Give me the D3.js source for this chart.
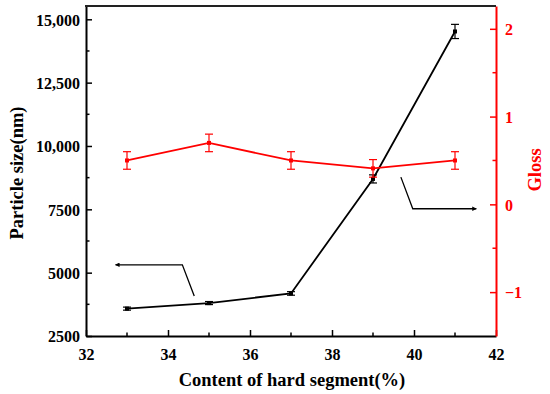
<!DOCTYPE html>
<html>
<head>
  <script src="https://d3js.org/d3.v7.min.js"></script>
  <style>
    * { margin: 0; box-sizing: border-box; }
    body { background: #fff; }
    text { font-family: "Liberation Serif", "Times New Roman", serif; font-weight: bold; }
  </style>
</head>
<body>
<script>
// hard segment content (%)
const content = [33, 35, 37, 39, 41];
// particle size (nm) with error
const sizeVals = [3580, 3800, 4180, 8700, 14520];
const sizeErr = [60, 60, 70, 160, 280];
// gloss with error
const glossVals = [0.5, 0.7, 0.5, 0.41, 0.5];
const glossErr = [0.1, 0.1, 0.1, 0.1, 0.1];

const xTicks = [32, 34, 36, 38, 40, 42];
const yTicks = [2500, 5000, 7500, 10000, 12500, 15000];
const gTicks = [-1, 0, 1, 2];

// arrow annotations in data units
const leftArrow = [[34.64, 4080], [34.35, 5310], [32.72, 5310]];
const rightArrow = [[39.68, 0.31], [39.97, -0.05], [41.52, -0.05]];

const width = 550, height = 394;
const m = { left: 86, right: 496, top: 6, bottom: 336 };

const svg = d3.select("body").append("svg")
  .attr("width", width).attr("height", height);

const defs = svg.append("defs");
defs.append("marker").attr("id", "ah")
  .attr("viewBox", "0 0 10 10").attr("refX", 9).attr("refY", 5)
  .attr("markerWidth", 9).attr("markerHeight", 4.5).attr("orient", "auto")
  .attr("markerUnits", "userSpaceOnUse")
  .append("path").attr("d", "M0,0L10,5L0,10z").attr("fill", "#000");

const x = d3.scaleLinear().domain([32, 42]).range([m.left, m.right]);
const y = d3.scaleLinear().domain([2500, 15525]).range([m.bottom, m.top]);
const g = d3.scaleLinear().domain([-1.5, 2.26]).range([m.bottom, m.top]);

const fmt = d => d >= 10000 ? d3.format(",")(d) : d3.format("d")(d);

// bottom axis
const xAx = svg.append("g").attr("transform", `translate(0,${m.bottom})`)
  .call(d3.axisBottom(x).tickValues(xTicks).tickSizeInner(-6).tickSizeOuter(0).tickPadding(13));
// minor x ticks
svg.append("g").selectAll("line").data(d3.range(33, 42, 2)).join("line")
  .attr("x1", d => x(d)).attr("x2", d => x(d))
  .attr("y1", m.bottom).attr("y2", m.bottom - 3.5)
  .attr("stroke", "#000").attr("stroke-width", 1.5);

// left axis
const yAx = svg.append("g").attr("transform", `translate(${m.left},0)`)
  .call(d3.axisLeft(y).tickValues(yTicks).tickFormat(fmt).tickSizeInner(-6).tickSizeOuter(0).tickPadding(6));
svg.append("g").selectAll("line").data(d3.range(3750, 15100, 2500)).join("line")
  .attr("x1", m.left).attr("x2", m.left + 3.5)
  .attr("y1", d => y(d)).attr("y2", d => y(d))
  .attr("stroke", "#000").attr("stroke-width", 1.5);

// right axis (red)
const gAx = svg.append("g").attr("transform", `translate(${m.right},0)`)
  .call(d3.axisRight(g).tickValues(gTicks).tickFormat(d => d < 0 ? "\u2212" + Math.abs(d) : d)
    .tickSizeInner(-6).tickSizeOuter(0).tickPadding(9));
svg.append("g").selectAll("line").data([-0.5, 0.5, 1.5]).join("line")
  .attr("x1", m.right).attr("x2", m.right - 3.5)
  .attr("y1", d => g(d)).attr("y2", d => g(d))
  .attr("stroke", "red").attr("stroke-width", 1.5);

[xAx, yAx, gAx].forEach(a => {
  a.select(".domain").attr("stroke-width", 2);
  a.selectAll(".tick line").attr("stroke-width", 1.5);
  a.selectAll("text").style("font-size", "16px").style("font-family", "Liberation Serif").style("font-weight", "bold");
});
yAx.selectAll("text").attr("dy", "0.36em");
gAx.select(".domain").attr("stroke", "red");
gAx.selectAll(".tick line").attr("stroke", "red");
gAx.selectAll("text").attr("fill", "red").attr("dy", "0.36em");

// top frame
svg.append("line").attr("x1", m.left - 1).attr("x2", m.right)
  .attr("y1", m.top).attr("y2", m.top).attr("stroke", "#222").attr("stroke-width", 2);

// particle size series
const sizeData = content.map((c, i) => ({ c, v: sizeVals[i], e: sizeErr[i] }));
svg.append("path").datum(sizeData)
  .attr("d", d3.line().x(d => x(d.c)).y(d => y(d.v)))
  .attr("fill", "none").attr("stroke", "#000").attr("stroke-width", 1.8);
const sg = svg.append("g").selectAll("g").data(sizeData).join("g");
sg.append("line").attr("x1", d => x(d.c)).attr("x2", d => x(d.c))
  .attr("y1", d => y(d.v - d.e)).attr("y2", d => y(d.v + d.e)).attr("stroke", "#000").attr("stroke-width", 1.2);
sg.selectAll(".cap").data(d => [d.v - d.e, d.v + d.e].map(v => ({ c: d.c, v }))).join("line")
  .attr("x1", d => x(d.c) - 4).attr("x2", d => x(d.c) + 4)
  .attr("y1", d => y(d.v)).attr("y2", d => y(d.v)).attr("stroke", "#000").attr("stroke-width", 1.2);
sg.append("rect").attr("x", d => x(d.c) - 2).attr("y", d => y(d.v) - 2)
  .attr("width", 4).attr("height", 4).attr("fill", "#000");

// gloss series
const glossData = content.map((c, i) => ({ c, v: glossVals[i], e: glossErr[i] }));
svg.append("path").datum(glossData)
  .attr("d", d3.line().x(d => x(d.c)).y(d => g(d.v)))
  .attr("fill", "none").attr("stroke", "red").attr("stroke-width", 1.8);
const rg = svg.append("g").selectAll("g").data(glossData).join("g");
rg.append("line").attr("x1", d => x(d.c)).attr("x2", d => x(d.c))
  .attr("y1", d => g(d.v - d.e)).attr("y2", d => g(d.v + d.e)).attr("stroke", "red").attr("stroke-width", 1.2);
rg.selectAll(".cap").data(d => [d.v - d.e, d.v + d.e].map(v => ({ c: d.c, v }))).join("line")
  .attr("x1", d => x(d.c) - 4).attr("x2", d => x(d.c) + 4)
  .attr("y1", d => g(d.v)).attr("y2", d => g(d.v)).attr("stroke", "red").attr("stroke-width", 1.2);
rg.append("rect").attr("x", d => x(d.c) - 2).attr("y", d => g(d.v) - 2)
  .attr("width", 4).attr("height", 4).attr("fill", "red");

// arrows
svg.append("path").datum(leftArrow)
  .attr("d", d3.line().x(d => x(d[0])).y(d => y(d[1])))
  .attr("fill", "none").attr("stroke", "#000").attr("stroke-width", 1.3)
  .attr("marker-end", "url(#ah)");
svg.append("path").datum(rightArrow)
  .attr("d", d3.line().x(d => x(d[0])).y(d => g(d[1])))
  .attr("fill", "none").attr("stroke", "#000").attr("stroke-width", 1.3)
  .attr("marker-end", "url(#ah)");

// titles
svg.append("text").attr("x", (m.left + m.right) / 2 + 1).attr("y", 386)
  .attr("text-anchor", "middle").style("font-size", "18.5px")
  .text("Content of hard segment(%)");
svg.append("text").attr("transform", `translate(23,173) rotate(-90)`)
  .attr("text-anchor", "middle").style("font-size", "18.5px")
  .text("Particle size(nm)");
svg.append("text").attr("transform", `translate(541,170) rotate(-90)`)
  .attr("text-anchor", "middle").style("font-size", "18.5px").attr("fill", "red")
  .text("Gloss");
</script>
</body>
</html>
